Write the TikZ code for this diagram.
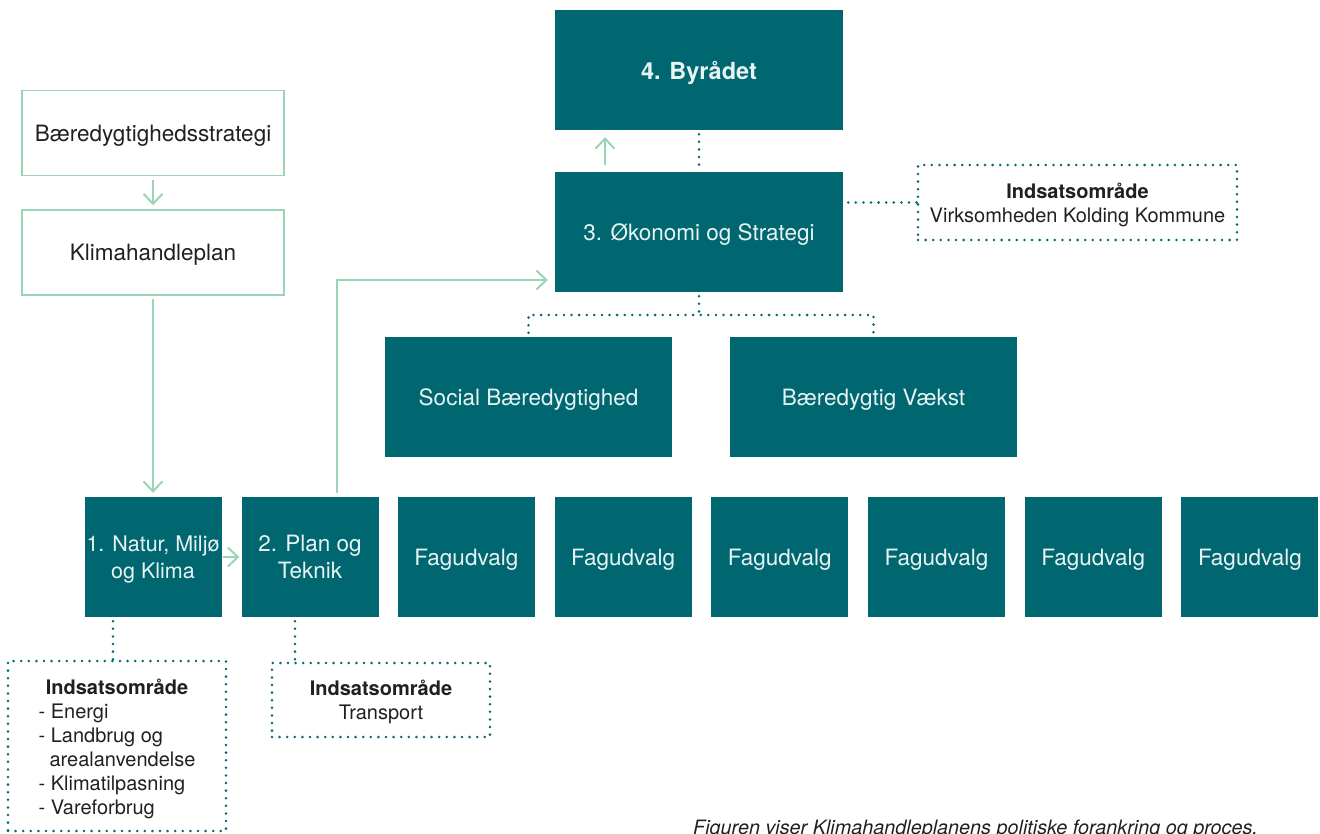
\documentclass[tikz,border=0pt]{standalone}
\usepackage{fontspec}
\setmainfont{TeX Gyre Heros}
\usetikzlibrary{arrows.meta,positioning}
\definecolor{BoxClr}{HTML}{006670}
\definecolor{ArrowClr}{HTML}{99D5B4}
\definecolor{LabelClr}{HTML}{E8F4F4}
\definecolor{TextClr}{HTML}{231F20}

\begin{document}
\begin{tikzpicture}[x=1pt,y=-1pt,
  udvalg/.style={fill=BoxClr,text=LabelClr,minimum width=137pt,minimum height=120pt,
    inner sep=0pt,align=center,text depth=0pt,font=\fontsize{22.5}{27}\selectfont},
  bigbox/.style={udvalg,minimum width=288pt},
  greenbox/.style={draw=ArrowClr,line width=1.5pt,minimum width=262pt,minimum height=85pt,
    text depth=0pt,text=TextClr,font=\fontsize{22.5}{27}\selectfont},
  dotline/.style={draw=BoxClr,line width=2.8pt,line cap=round,dash pattern=on 0pt off 7.6pt},
  dotbox/.style={dotline,text=TextClr,inner sep=0pt,align=center,text depth=0pt,
    font=\fontsize{20}{24}\selectfont},
  grn/.style={draw=ArrowClr,line width=2pt,-{Straight Barb[length=10pt,width=19pt]}}]
\useasboundingbox (0,0) rectangle (1320,833);

% byraad og udvalg
\node[bigbox,font=\fontsize{23.5}{27}\selectfont\bfseries] (byr) at (699,70) {4. Byrådet};
\node[bigbox] (oek) at (699,232) {3. Økonomi og Strategi};
\node[bigbox,minimum width=287pt] (soc) at (528.5,397) {Social Bæredygtighed};
\node[bigbox,minimum width=287pt] (vaek) at (873.5,397) {Bæredygtig Vækst};

\node[udvalg,font=\fontsize{21.5}{27}\selectfont] (u1) at (153,557) {1. Natur, Miljø\\og Klima};
\node[udvalg] (u2) at (310,557) {2. Plan og\\Teknik};
\foreach \i in {3,...,8}
  \node[udvalg] (u\i) at ({153+156.7*(\i-1)},557) {Fagudvalg};

% strategi og plan
\node[greenbox] (strat) at (153,133) {Bæredygtighedsstrategi};
\node[greenbox] (khp) at (153,252.5) {Klimahandleplan};

% indsatsomraader
\node[dotbox,minimum width=319pt,minimum height=75pt] (omr) at (1077.5,202.5)
  {\textbf{Indsatsområde}\\Virksomheden Kolding Kommune};
\node[dotbox,minimum width=218pt,minimum height=74pt] (omrtr) at (381,700)
  {\textbf{Indsatsområde}\\Transport};
\node[dotbox,minimum width=218pt,minimum height=170pt] (omrnat) at (117,746)
  {\begin{tabular}[b]{@{}l@{}}
   \multicolumn{1}{@{}c@{}}{\textbf{Indsatsområde}}\\
   - Energi\\
   - Landbrug og\\
   \hspace{0.55em}arealanvendelse\\
   - Klimatilpasning\\
   - Vareforbrug
   \end{tabular}};

\node[anchor=base west,inner sep=0pt,text=TextClr,font=\fontsize{19.8}{23}\selectfont\itshape]
  (cap) at (693,834) {Figuren viser Klimahandleplanens politiske forankring og proces.};

% pile
\draw[grn,shorten <=4pt,shorten >=4pt] (strat) -- (khp);
\draw[grn,shorten <=3pt,shorten >=4pt] (khp) -- (u1);
\draw[grn,shorten <=1pt,shorten >=2pt] (u1) -- (u2);
\coordinate (knee) at (337,280);
\draw[grn,shorten <=4pt,shorten >=7pt] (u2.north -| knee) -- (knee) -- (knee -| oek.west);
\coordinate (opad) at (605,150);
\draw[grn,shorten <=7pt,shorten >=7pt] (oek.north -| opad) -- (byr.south -| opad);

% prikkede linjer
\draw[dotline,shorten <=4pt,shorten >=4pt] (byr) -- (oek);
\draw[dotline,shorten <=5pt] (oek.east |- omr.west) -- (omr.west);
\coordinate (deling) at (699,315);
\draw[dotline,shorten <=4pt] (oek.south) -- (deling);
\draw[dotline,shorten <=4pt,shorten >=4pt] (soc.north) |- (deling) -| (vaek.north);
\draw[dotline,shorten <=4pt] ([xshift=-40pt]u1.south) -- ([xshift=-40pt]u1.south |- omrnat.north);
\draw[dotline,shorten <=4pt] ([xshift=-15pt]u2.south) -- ([xshift=-15pt]u2.south |- omrtr.north);
\end{tikzpicture}
\end{document}
